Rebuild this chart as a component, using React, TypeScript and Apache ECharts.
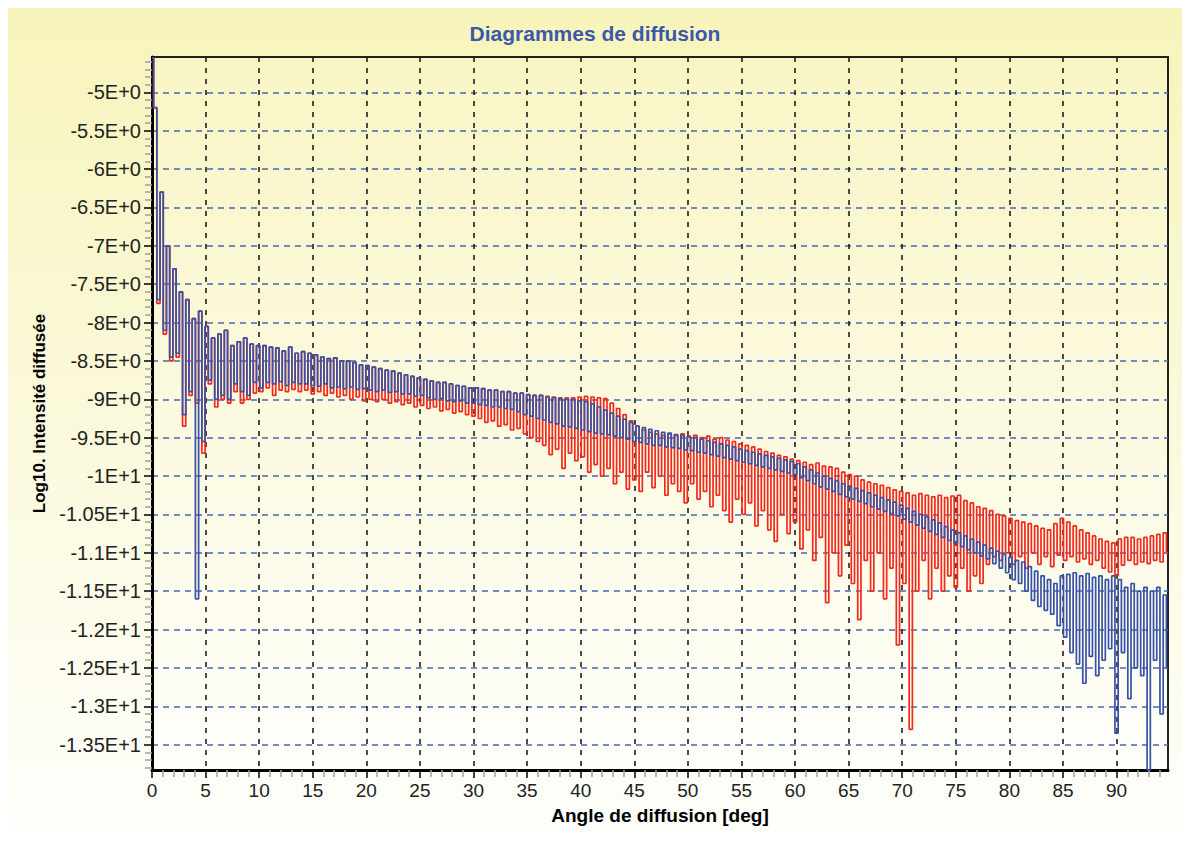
import React, { useEffect, useRef } from "react";
import * as echarts from "echarts";

// Angular sampling of the two scattering curves (degrees between successive values)
const ANGLE_STEP = 0.3;
const X_MIN = 0;
const X_MAX = 94.8;
const Y_MIN = -13.83;
const Y_MAX = -4.54;

const X_TICKS = [0, 5, 10, 15, 20, 25, 30, 35, 40, 45, 50, 55, 60, 65, 70, 75, 80, 85, 90];
const Y_TICKS = [-13.5, -13, -12.5, -12, -11.5, -11, -10.5, -10, -9.5, -9, -8.5, -8, -7.5, -7, -6.5, -6, -5.5, -5];

const TITLE = "Diagrammes de diffusion";
const X_NAME = "Angle de diffusion [deg]";
const Y_NAME = "Log10. Intensité diffusée";

// Red curve, values read every 0.3 deg from 0 to 94.8
const RED_VALUES = [
  -4.55, -5.2, -7.75, -6.3, -8.15, -7.0, -8.5, -7.3, -8.45, -7.6,
  -9.35, -7.7, -8.95, -7.95, -9.05, -7.85, -9.7, -8.05, -8.8, -8.2,
  -9.1, -8.15, -9.0, -8.1, -9.05, -8.3, -8.9, -8.25, -9.05, -8.2,
  -9.0, -8.28, -8.92, -8.3, -8.9, -8.3, -8.85, -8.32, -8.95, -8.33,
  -8.88, -8.37, -8.9, -8.32, -8.87, -8.4, -8.9, -8.38, -8.88, -8.4,
  -8.93, -8.42, -8.9, -8.45, -8.95, -8.47, -8.92, -8.46, -8.97, -8.5,
  -8.95, -8.5, -9.0, -8.52, -8.97, -8.55, -9.02, -8.56, -9.0, -8.58,
  -9.03, -8.6, -9.0, -8.62, -9.05, -8.63, -9.03, -8.66, -9.07, -8.68,
  -9.05, -8.7, -9.1, -8.72, -9.08, -8.74, -9.12, -8.76, -9.1, -8.78,
  -9.15, -8.78, -9.13, -8.8, -9.18, -8.82, -9.16, -8.83, -9.2, -8.85,
  -9.22, -8.85, -9.25, -8.86, -9.3, -8.88, -9.28, -8.88, -9.35, -8.9,
  -9.33, -8.9, -9.4, -8.92, -9.38, -8.92, -9.45, -8.94, -9.5, -8.95,
  -9.55, -8.95, -9.6, -8.96, -9.72, -8.97, -9.65, -8.98, -9.9, -8.98,
  -9.7, -8.98, -9.8, -8.97, -9.75, -8.96, -9.95, -8.97, -9.85, -8.98,
  -10.0, -8.99, -9.9, -9.05, -10.1, -9.12, -9.95, -9.2, -10.17, -9.28,
  -10.05, -9.35, -10.2, -9.4, -9.95, -9.43, -10.15, -9.45, -10.0, -9.47,
  -10.25, -9.45, -10.1, -9.47, -10.2, -9.45, -10.35, -9.48, -10.1, -9.47,
  -10.3, -9.5, -10.2, -9.48, -10.4, -9.52, -10.25, -9.5, -10.45, -9.53,
  -10.6, -9.55, -10.3, -9.58, -10.5, -9.6, -10.35, -9.62, -10.65, -9.65,
  -10.45, -9.68, -10.7, -9.7, -10.85, -9.73, -10.5, -9.75, -10.75, -9.78,
  -10.6, -9.8, -10.95, -9.82, -10.7, -9.85, -11.1, -9.83, -10.8, -9.87,
  -11.65, -9.88, -11.0, -9.9, -11.3, -9.95, -10.9, -9.98, -11.4, -10.0,
  -11.87, -10.05, -11.1, -10.08, -11.5, -10.1, -11.0, -10.12, -11.6, -10.15,
  -11.2, -10.18, -12.2, -10.2, -11.4, -10.22, -13.3, -10.25, -11.5, -10.23,
  -11.1, -10.25, -11.6, -10.27, -11.2, -10.25, -11.5, -10.28, -11.3, -10.26,
  -11.45, -10.25, -11.2, -10.32, -11.5, -10.35, -11.3, -10.4, -11.4, -10.42,
  -11.15, -10.45, -11.05, -10.5, -11.1, -10.52, -11.0, -10.55, -11.15, -10.58,
  -11.05, -10.6, -11.2, -10.62, -11.0, -10.65, -11.15, -10.68, -11.05, -10.7,
  -11.18, -10.62, -11.03, -10.55, -11.1, -10.6, -11.05, -10.65, -11.12, -10.7,
  -11.08, -10.74, -11.15, -10.78, -11.1, -10.82, -11.2, -10.85, -11.25, -10.87,
  -11.3, -10.82, -11.16, -10.8, -11.1, -10.8, -11.15, -10.82, -11.12, -10.8,
  -11.14, -10.78, -11.1, -10.76, -11.12, -10.74, -11.0,
];

// Blue curve, values read every 0.3 deg from 0 to 94.8
const BLUE_VALUES = [
  -4.55, -5.2, -7.7, -6.3, -8.1, -7.0, -8.45, -7.3, -8.4, -7.6,
  -9.2, -7.7, -8.9, -7.95, -11.6, -7.85, -9.55, -8.05, -8.75, -8.2,
  -9.0, -8.15, -8.95, -8.1, -9.0, -8.3, -8.8, -8.25, -8.9, -8.2,
  -8.95, -8.28, -8.78, -8.3, -8.85, -8.3, -8.78, -8.32, -8.8, -8.33,
  -8.77, -8.37, -8.82, -8.32, -8.78, -8.4, -8.8, -8.38, -8.8, -8.4,
  -8.82, -8.42, -8.83, -8.45, -8.8, -8.47, -8.85, -8.46, -8.84, -8.5,
  -8.86, -8.5, -8.84, -8.52, -8.87, -8.55, -8.86, -8.56, -8.88, -8.58,
  -8.9, -8.6, -8.88, -8.62, -8.91, -8.63, -8.9, -8.66, -8.93, -8.68,
  -8.93, -8.7, -8.96, -8.72, -8.95, -8.74, -8.98, -8.76, -9.0, -8.78,
  -8.99, -8.78, -9.02, -8.8, -9.03, -8.82, -9.02, -8.83, -9.05, -8.85,
  -9.05, -8.85, -9.07, -8.86, -9.08, -8.88, -9.1, -8.88, -9.1, -8.9,
  -9.12, -8.9, -9.13, -8.92, -9.16, -8.92, -9.2, -8.94, -9.22, -8.95,
  -9.25, -8.95, -9.27, -8.97, -9.3, -8.98, -9.32, -8.99, -9.35, -9.0,
  -9.36, -9.0, -9.38, -9.02, -9.4, -9.03, -9.42, -9.06, -9.44, -9.1,
  -9.45, -9.14, -9.46, -9.18, -9.48, -9.22, -9.5, -9.26, -9.52, -9.3,
  -9.55, -9.35, -9.56, -9.37, -9.58, -9.39, -9.6, -9.41, -9.6, -9.43,
  -9.62, -9.44, -9.63, -9.46, -9.64, -9.47, -9.66, -9.49, -9.67, -9.5,
  -9.69, -9.52, -9.7, -9.54, -9.72, -9.56, -9.74, -9.58, -9.76, -9.6,
  -9.78, -9.62, -9.8, -9.65, -9.82, -9.67, -9.84, -9.69, -9.86, -9.71,
  -9.88, -9.73, -9.9, -9.75, -9.92, -9.77, -9.94, -9.79, -9.96, -9.81,
  -9.98, -9.84, -10.02, -9.88, -10.06, -9.92, -10.1, -9.96, -10.14, -10.0,
  -10.17, -10.03, -10.2, -10.06, -10.24, -10.1, -10.27, -10.13, -10.3, -10.16,
  -10.33, -10.19, -10.36, -10.22, -10.4, -10.25, -10.43, -10.28, -10.46, -10.31,
  -10.49, -10.34, -10.52, -10.38, -10.56, -10.42, -10.6, -10.46, -10.64, -10.5,
  -10.68, -10.53, -10.72, -10.57, -10.76, -10.61, -10.8, -10.66, -10.84, -10.7,
  -10.88, -10.74, -10.92, -10.78, -10.96, -10.82, -11.0, -10.86, -11.04, -10.9,
  -11.08, -10.94, -11.14, -10.98, -11.2, -11.02, -11.26, -11.06, -11.35, -11.1,
  -11.4, -11.12, -11.5, -11.18, -11.62, -11.24, -11.7, -11.3, -11.75, -11.35,
  -11.8, -11.4, -11.95, -11.3, -12.1, -11.28, -12.3, -11.26, -12.45, -11.3,
  -12.7, -11.27, -12.35, -11.32, -12.6, -11.3, -12.4, -11.35, -12.25, -11.3,
  -13.35, -11.35, -12.3, -11.45, -12.9, -11.4, -12.5, -11.5, -12.6, -11.45,
  -13.83, -11.5, -12.4, -11.45, -13.1, -11.55, -12.5,
];

function toPairs(values: number[]): [number, number][] {
  return values.map((v, i) => [Math.round(i * ANGLE_STEP * 100) / 100, v]);
}

function sciLabel(v: number): string {
  if (v === 0) return "0";
  const e = Math.floor(Math.log10(Math.abs(v)) + 1e-9);
  const m = v / Math.pow(10, e);
  return `${parseFloat(m.toFixed(4))}E+${e}`;
}

function minorValues(min: number, max: number, step: number, majorStep: number): number[] {
  const out: number[] = [];
  const start = Math.ceil(min / step);
  const end = Math.floor(max / step);
  for (let k = start; k <= end; k++) {
    const v = Math.round(k * step * 1000) / 1000;
    const r = Math.abs(v / majorStep - Math.round(v / majorStep));
    if (r > 1e-6) out.push(v);
  }
  return out;
}

export default function App() {
  const ref = useRef<HTMLDivElement>(null);

  useEffect(() => {
    if (!ref.current) return;
    const chart = echarts.init(ref.current, undefined, { renderer: "svg" });
    const font = "'Liberation Sans', Arial, sans-serif";
    const xMinor = minorValues(X_MIN, X_MAX, 1, 5);
    const yMinor = minorValues(Y_MIN, Y_MAX, 0.1, 0.5);

    chart.setOption({
      animation: false,
      backgroundColor: new echarts.graphic.LinearGradient(0, 0, 0, 1, [
        { offset: 0, color: "#f7f4bb" },
        { offset: 1, color: "#fefefb" },
      ]),
      title: {
        text: TITLE,
        left: "center",
        top: 10,
        textStyle: { color: "#3b58aa", fontWeight: "bold", fontSize: 21, fontFamily: font },
      },
      grid: {
        left: 144,
        top: 49,
        right: 14,
        bottom: 63,
        show: true,
        borderColor: "#222",
        borderWidth: 2,
        backgroundColor: new echarts.graphic.LinearGradient(0, 0, 0, 1, [
          { offset: 0, color: "#f8f5c4" },
          { offset: 1, color: "#fefefa" },
        ]),
      },
      xAxis: [
        {
          type: "value",
          min: X_MIN,
          max: X_MAX,
          name: X_NAME,
          nameLocation: "middle",
          nameGap: 36,
          nameTextStyle: { color: "#000", fontWeight: "bold", fontSize: 19, fontFamily: font },
          axisLine: { show: true, lineStyle: { color: "#000", width: 3 } },
          axisTick: { show: true, customValues: X_TICKS, length: 8, lineStyle: { color: "#000", width: 1.5 } },
          axisLabel: {
            customValues: X_TICKS,
            margin: 11,
            color: "#222",
            fontSize: 19,
            fontFamily: font,
          },
          splitLine: { show: true, lineStyle: { color: "#111", type: [5, 6], width: 1.5 } },
        },
        {
          type: "value",
          min: X_MIN,
          max: X_MAX,
          position: "bottom",
          axisLine: { show: false },
          axisTick: { show: true, customValues: xMinor, length: 7, lineStyle: { color: "#a0a0a0", width: 1.5 } },
          axisLabel: { show: false },
          splitLine: { show: false },
        },
      ],
      yAxis: [
        {
          type: "value",
          min: Y_MIN,
          max: Y_MAX,
          name: Y_NAME,
          nameLocation: "middle",
          nameRotate: 90,
          nameGap: 102,
          nameTextStyle: { color: "#000", fontWeight: "bold", fontSize: 17, fontFamily: font },
          axisLine: { show: true, lineStyle: { color: "#000", width: 3 } },
          axisTick: { show: true, customValues: Y_TICKS, length: 8, lineStyle: { color: "#000", width: 1.5 } },
          axisLabel: {
            customValues: Y_TICKS,
            formatter: (v: number) => sciLabel(v),
            margin: 11,
            color: "#222",
            fontSize: 20,
            fontFamily: font,
          },
          splitLine: { show: true, lineStyle: { color: "#4a66b4", type: [6, 5], width: 1.5 } },
        },
        {
          type: "value",
          min: Y_MIN,
          max: Y_MAX,
          position: "left",
          axisLine: { show: false },
          axisTick: { show: true, customValues: yMinor, length: 7, lineStyle: { color: "#a0a0a0", width: 1.5 } },
          axisLabel: { show: false },
          splitLine: { show: false },
        },
      ],
      series: [
        {
          type: "line",
          name: "rouge",
          xAxisIndex: 0,
          yAxisIndex: 0,
          data: toPairs(RED_VALUES),
          step: "middle",
          symbol: "none",
          lineStyle: { color: "#f2291c", width: 1.7 },
          z: 3,
        },
        {
          type: "line",
          name: "bleu",
          xAxisIndex: 0,
          yAxisIndex: 0,
          data: toPairs(BLUE_VALUES),
          step: "middle",
          symbol: "none",
          lineStyle: { color: "#3752a6", width: 1.7 },
          z: 4,
        },
      ],
    });

    return () => chart.dispose();
  }, []);

  return <div ref={ref} style={{ width: 1174, height: 825 }} />;
}
